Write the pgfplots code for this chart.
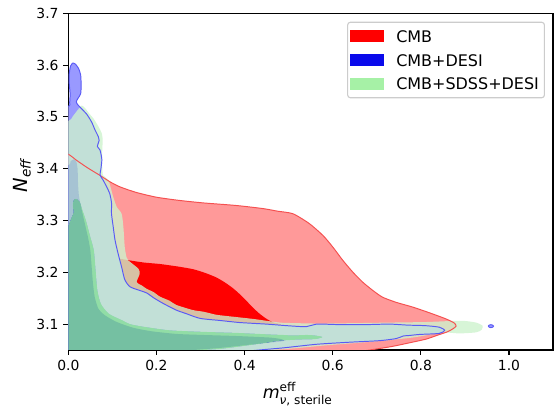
\documentclass[border=0pt]{standalone}
\usepackage{amsmath}
\usepackage{fontspec}
\setmainfont{DejaVu Sans}
\usepackage{pgfplots}
\usepackage{pgfplotstable}
\pgfplotsset{compat=1.18}

\definecolor{cmbout}{RGB}{255,153,153}
\definecolor{cmbin}{RGB}{255,0,0}
\definecolor{cmbline}{RGB}{245,80,80}
\definecolor{desiout}{RGB}{153,153,255}
\definecolor{desiin}{RGB}{10,10,235}
\definecolor{desiline}{RGB}{90,90,245}
\definecolor{sdssout}{RGB}{205,242,205}
\definecolor{sdssin}{RGB}{144,238,144}
\definecolor{sdsslegend}{RGB}{166,241,166}
\definecolor{legframe}{RGB}{204,204,204}

% CMB, outer (2 sigma) contour
\pgfplotstableread{
x y
-0.05 3.45
0.000 3.428
0.019 3.416
0.045 3.401
0.072 3.387
0.094 3.375
0.117 3.365
0.155 3.354
0.200 3.345
0.250 3.339
0.306 3.334
0.381 3.329
0.442 3.323
0.475 3.318
0.510 3.313
0.547 3.294
0.578 3.271
0.600 3.249
0.623 3.223
0.646 3.200
0.668 3.181
0.691 3.165
0.713 3.152
0.744 3.142
0.781 3.133
0.819 3.122
0.857 3.110
0.876 3.102
0.880 3.096
0.873 3.091
0.860 3.085
0.836 3.078
0.812 3.071
0.775 3.064
0.736 3.057
0.700 3.052
0.661 3.047
0.600 3.038
0.500 3.025
0.300 3.000
-0.05 3.000
-0.05 3.45
}\cmbtwo

% CMB, inner (1 sigma) contour
\pgfplotstableread{
x y
0.118 3.226
0.132 3.224
0.170 3.219
0.208 3.216
0.250 3.211
0.283 3.206
0.310 3.199
0.336 3.190
0.356 3.180
0.374 3.169
0.390 3.157
0.404 3.145
0.420 3.131
0.434 3.120
0.450 3.110
0.466 3.103
0.483 3.099
0.470 3.090
0.420 3.093
0.350 3.100
0.290 3.105
0.240 3.115
0.200 3.128
0.170 3.140
0.140 3.155
0.120 3.170
0.110 3.200
0.118 3.226
}\cmbone

% CMB+DESI, outer contour
\pgfplotstableread{
x y
-0.05 3.520
0.000 3.520
0.003 3.528
0.004 3.545
0.002 3.565
0.002 3.583
0.005 3.598
0.010 3.604
0.016 3.602
0.023 3.594
0.028 3.581
0.029 3.561
0.028 3.545
0.022 3.536
0.018 3.529
0.022 3.523
0.030 3.516
0.042 3.505
0.053 3.490
0.060 3.476
0.068 3.462
0.070 3.455
0.066 3.443
0.072 3.436
0.076 3.418
0.074 3.400
0.072 3.388
0.079 3.378
0.087 3.365
0.094 3.352
0.098 3.334
0.098 3.313
0.102 3.287
0.106 3.262
0.113 3.236
0.121 3.210
0.128 3.186
0.140 3.172
0.162 3.165
0.178 3.160
0.195 3.150
0.215 3.140
0.245 3.127
0.268 3.120
0.299 3.111
0.344 3.107
0.389 3.103
0.449 3.100
0.495 3.097
0.540 3.095
0.563 3.100
0.615 3.099
0.676 3.099
0.729 3.100
0.770 3.098
0.810 3.097
0.842 3.094
0.854 3.088
0.842 3.082
0.797 3.080
0.774 3.078
0.760 3.077
0.744 3.072
0.706 3.068
0.638 3.065
0.563 3.061
0.487 3.054
0.410 3.048
0.360 3.040
0.300 3.020
-0.05 3.020
-0.05 3.520
}\desitwo

% CMB+DESI, small island at the far right
\pgfplotstableread{
x y
0.953 3.0960
0.955 3.0980
0.959 3.0988
0.963 3.0980
0.965 3.0960
0.963 3.0940
0.959 3.0932
0.955 3.0940
0.953 3.0960
}\desidot

% CMB+DESI, inner contour
\pgfplotstableread{
x y
-0.05 3.400
0.000 3.406
0.005 3.414
0.012 3.418
0.018 3.414
0.021 3.400
0.022 3.372
0.024 3.348
0.030 3.322
0.038 3.292
0.045 3.266
0.050 3.242
0.053 3.210
0.056 3.178
0.060 3.152
0.068 3.130
0.083 3.117
0.110 3.104
0.147 3.093
0.190 3.086
0.246 3.081
0.306 3.079
0.381 3.077
0.457 3.074
0.483 3.071
0.490 3.068
0.479 3.066
0.419 3.061
0.344 3.054
0.268 3.049
0.220 3.046
0.180 3.030
-0.05 3.030
-0.05 3.400
}\desione

% CMB+SDSS+DESI, outer band (between the 2 sigma and 1 sigma contours)
\pgfplotstableread{
x y
-0.05 3.492
0.000 3.492
0.010 3.501
0.020 3.512
0.030 3.522
0.038 3.517
0.048 3.506
0.057 3.497
0.068 3.482
0.076 3.468
0.078 3.455
0.077 3.436
0.077 3.403
0.079 3.387
0.091 3.378
0.102 3.345
0.110 3.326
0.121 3.313
0.125 3.287
0.128 3.249
0.132 3.229
0.136 3.223
0.159 3.207
0.162 3.197
0.155 3.181
0.166 3.175
0.178 3.168
0.193 3.162
0.208 3.153
0.230 3.145
0.245 3.137
0.283 3.127
0.306 3.124
0.336 3.118
0.366 3.115
0.419 3.110
0.479 3.103
0.510 3.102
0.570 3.101
0.661 3.102
0.736 3.103
0.812 3.104
0.870 3.106
0.900 3.106
0.925 3.103
0.940 3.097
0.938 3.089
0.925 3.084
0.887 3.082
0.849 3.084
0.810 3.078
0.781 3.074
0.729 3.069
0.660 3.064
0.585 3.059
0.510 3.053
0.434 3.048
0.380 3.044
0.330 3.030
0.220 3.030
0.268 3.047
0.344 3.052
0.400 3.058
0.450 3.064
0.480 3.068
0.520 3.070
0.560 3.071
0.577 3.075
0.560 3.078
0.540 3.079
0.510 3.078
0.487 3.079
0.457 3.080
0.381 3.083
0.306 3.085
0.230 3.088
0.170 3.095
0.140 3.100
0.123 3.107
0.092 3.120
0.074 3.139
0.066 3.165
0.062 3.203
0.058 3.242
0.050 3.268
0.040 3.300
0.032 3.320
0.026 3.336
0.0175 3.342
0.012 3.339
0.010 3.329
0.012 3.316
0.008 3.307
0.002 3.294
0.000 3.291
-0.05 3.290
-0.05 3.492
}\sdsstwo

% CMB+SDSS+DESI, inner contour
\pgfplotstableread{
x y
0.220 3.030
0.268 3.047
0.344 3.052
0.400 3.058
0.450 3.064
0.480 3.068
0.520 3.070
0.560 3.071
0.577 3.075
0.560 3.078
0.540 3.079
0.510 3.078
0.487 3.079
0.457 3.080
0.381 3.083
0.306 3.085
0.230 3.088
0.170 3.095
0.140 3.100
0.123 3.107
0.092 3.120
0.074 3.139
0.066 3.165
0.062 3.203
0.058 3.242
0.050 3.268
0.040 3.300
0.032 3.320
0.026 3.336
0.0175 3.342
0.012 3.339
0.010 3.329
0.012 3.316
0.008 3.307
0.002 3.294
0.000 3.291
-0.05 3.290
-0.05 3.030
0.220 3.030
}\sdssone

\begin{document}
\begin{tikzpicture}
\begin{axis}[
    name=ax,
    scale only axis, width=349pt, height=242.4pt,
    xmin=0, xmax=1.1, ymin=3.05, ymax=3.7,
    xtick={0,0.2,0.4,0.6,0.8,1.0},
    ytick={3.1,3.2,3.3,3.4,3.5,3.6,3.7},
    tick pos=left, tick align=outside,
    major tick length=3.5pt,
    tick style={black, line width=0.8pt},
    axis line style={line width=0.8pt},
    /pgf/number format/assume math mode=true,
    ticklabel style={font=\fontsize{10}{12}\selectfont},
    xticklabel style={/pgf/number format/.cd, fixed, fixed zerofill, precision=1},
    yticklabel style={/pgf/number format/.cd, fixed, fixed zerofill, precision=1},
    xlabel={\textit{m}$^{\text{eff}}_{\textit{ν}\text{, sterile}}$},
    ylabel={\textit{N}$_{\textit{eff}}$},
    xlabel style={font=\fontsize{12.5}{15}\selectfont,
        at={(axis description cs:0.391,-0.1427)}, anchor=base west},
    ylabel style={font=\fontsize{14}{16}\selectfont,
        at={(axis description cs:-0.085,0.454)}, anchor=base west},
    legend image code/.code={\fill[#1, draw=none, sharp corners] (0pt,-4.3pt) rectangle (24pt,4.3pt);},
    legend cell align=left,
    legend style={at={(1,1)}, anchor=north east, xshift=-5.8pt, yshift=-6pt,
        font=\fontsize{11.5}{13.5}\selectfont, draw=legframe, line width=0.8pt,
        rounded corners=2pt, fill=white, inner xsep=2pt, inner ysep=3.7pt,
        row sep=4pt,
        nodes={inner xsep=2pt, inner ysep=2pt, text height=9pt, text depth=0pt},
        /tikz/every odd column/.append style={column sep=7pt}},
    every axis plot/.append style={smooth, tension=0.4, forget plot},
]
\addlegendimage{fill=cmbin}
\addlegendentry{CMB}
\addlegendimage{fill=desiin}
\addlegendentry{CMB+DESI}
\addlegendimage{fill=sdsslegend}
\addlegendentry{CMB+SDSS+DESI}

\addplot[fill=cmbout, draw=none] table {\cmbtwo};
\addplot[fill=cmbin, draw=none] table {\cmbone};
\addplot[fill=desiout, draw=none] table {\desitwo};
\addplot[fill=desiin, draw=none] table {\desione};
\addplot[fill=desiout, draw=none] table {\desidot};
\addplot[fill=sdssout, fill opacity=0.8, draw=none] table {\sdsstwo};
\addplot[fill=sdssin, fill opacity=0.8, draw=none] table {\sdssone};

\addplot[draw=cmbline, line width=0.7pt] table {\cmbtwo};
\addplot[draw=desiline, line width=0.7pt] table {\desitwo};
\addplot[draw=desiline, line width=0.7pt] table {\desidot};
\end{axis}
\pgfresetboundingbox
\path (ax.south west) ++(-49.2pt,-40.3pt) rectangle ++(398.9pt,292.3pt);
\end{tikzpicture}
\end{document}
